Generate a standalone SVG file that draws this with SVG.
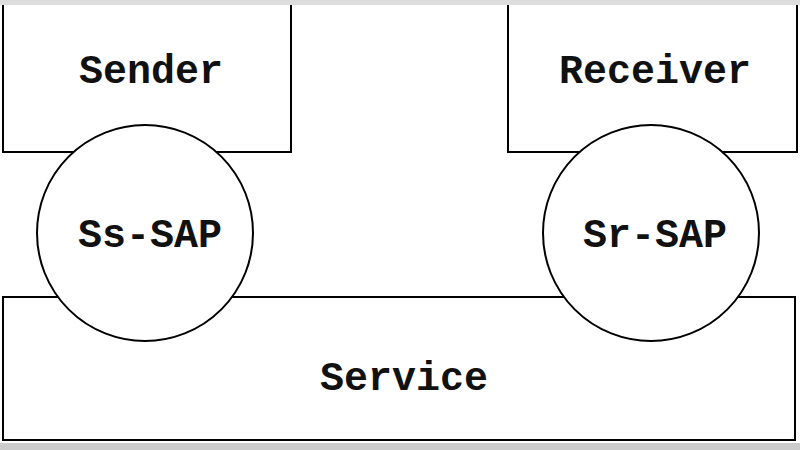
<svg xmlns="http://www.w3.org/2000/svg" width="800" height="450" viewBox="0 0 800 450">
<style>
.l{fill:none;stroke:#000;stroke-width:2}
.c{fill:#fff;stroke:#000;stroke-width:2}
text{font-family:"Liberation Mono","DejaVu Sans Mono",monospace;font-size:40px;font-weight:bold;text-anchor:middle;fill:#111}
</style>
<rect width="800" height="450" fill="#fff"/>
<rect x="0" y="0" width="800" height="5" fill="#ddd"/>
<rect x="0" y="443" width="800" height="7" fill="#ccc"/>
<g id="connectors"></g>
<g id="sender"><path class="l" d="M3,5 V152 H291 V5"/><text x="151" y="83">Sender</text></g>
<g id="receiver"><path class="l" d="M508,5 V152 H797 V5"/><text x="655" y="83">Receiver</text></g>
<g id="service"><rect class="l" x="3" y="297" width="792" height="143"/><text x="404" y="390">Service</text></g>
<g id="ss-sap"><circle class="c" cx="145" cy="233" r="108"/><text x="150" y="247">Ss-SAP</text></g>
<g id="sr-sap"><circle class="c" cx="651" cy="233" r="108"/><text x="655" y="247">Sr-SAP</text></g>
</svg>
